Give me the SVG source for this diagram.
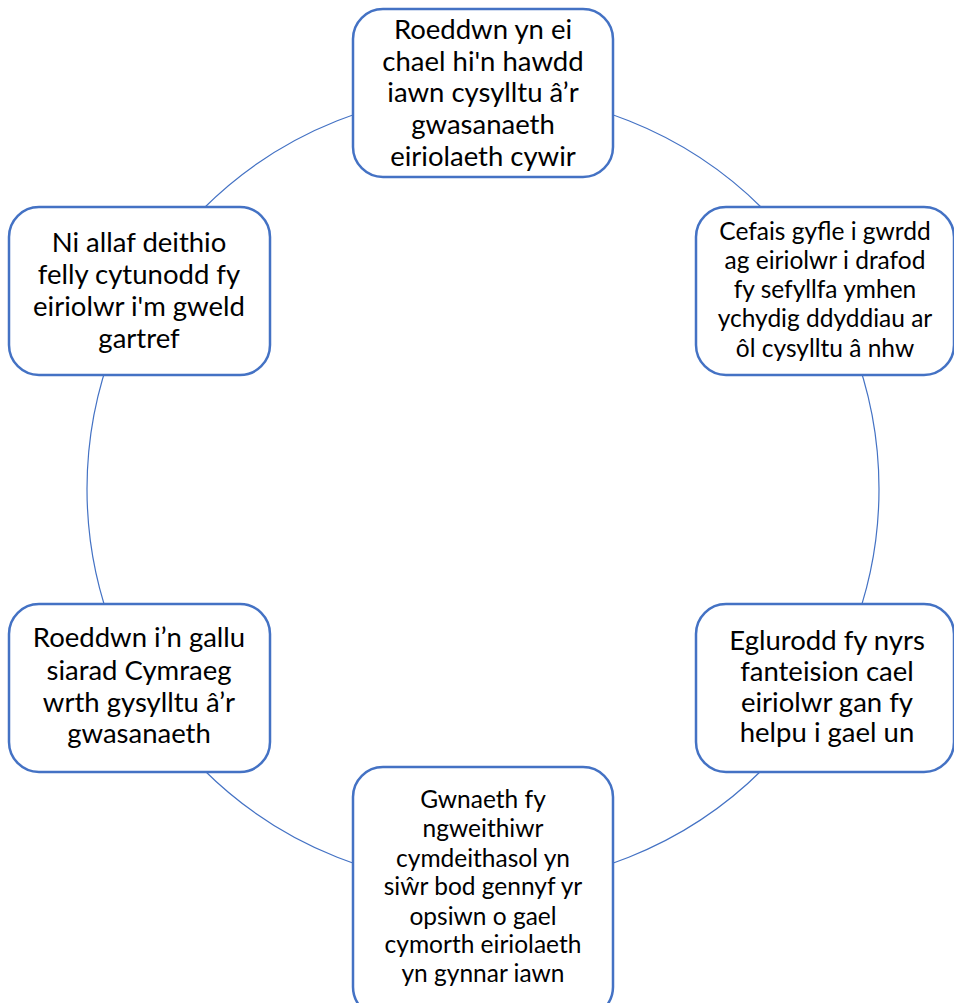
<svg xmlns="http://www.w3.org/2000/svg" width="954" height="1003" viewBox="0 0 954 1003">
<style>
.box{fill:#fff;stroke:#4472C4;stroke-width:2.5}
.t{font-family:Lato,"Liberation Sans",sans-serif;fill:#000;text-anchor:middle}
.big{font-size:27.5px}
.sm{font-size:24.5px}
.ring{fill:none;stroke:#4472C4;stroke-width:1.2}
</style>
<rect width="954" height="1003" fill="#fff"/>
<g id="connectors">
<circle class="ring" cx="483" cy="489" r="396"/>
</g>
<g id="n1">
<rect class="box" x="353" y="9" width="260" height="168" rx="30"/>
<text class="t big" x="483" y="39">Roeddwn yn ei</text>
<text class="t big" x="483" y="71">chael hi'n hawdd</text>
<text class="t big" x="483" y="102">iawn cysylltu â’r</text>
<text class="t big" x="483" y="134">gwasanaeth</text>
<text class="t big" x="483" y="166">eiriolaeth cywir</text>
</g>
<g id="n2">
<rect class="box" x="696" y="207" width="258" height="168" rx="30"/>
<text class="t sm" x="825" y="240">Cefais gyfle i gwrdd</text>
<text class="t sm" x="825" y="269">ag eiriolwr i drafod</text>
<text class="t sm" x="825" y="298">fy sefyllfa ymhen</text>
<text class="t sm" x="825" y="327">ychydig ddyddiau ar</text>
<text class="t sm" x="825" y="357">ôl cysylltu â nhw</text>
</g>
<g id="n3">
<rect class="box" x="696" y="604" width="258" height="168" rx="30"/>
<text class="t big" x="827" y="650">Eglurodd fy nyrs</text>
<text class="t big" x="827" y="681">fanteision cael</text>
<text class="t big" x="827" y="712">eiriolwr gan fy</text>
<text class="t big" x="827" y="742">helpu i gael un</text>
</g>
<g id="n4">
<rect class="box" x="353" y="767" width="260" height="250" rx="30"/>
<text class="t sm" x="483" y="808">Gwnaeth fy</text>
<text class="t sm" x="483" y="837">ngweithiwr</text>
<text class="t sm" x="483" y="867">cymdeithasol yn</text>
<text class="t sm" x="483" y="895">siŵr bod gennyf yr</text>
<text class="t sm" x="483" y="925">opsiwn o gael</text>
<text class="t sm" x="483" y="953">cymorth eiriolaeth</text>
<text class="t sm" x="483" y="982">yn gynnar iawn</text>
</g>
<g id="n5">
<rect class="box" x="9" y="604" width="261" height="168" rx="30"/>
<text class="t big" x="139" y="647">Roeddwn i’n gallu</text>
<text class="t big" x="139" y="680">siarad Cymraeg</text>
<text class="t big" x="139" y="712">wrth gysylltu â’r</text>
<text class="t big" x="139" y="743">gwasanaeth</text>
</g>
<g id="n6">
<rect class="box" x="9" y="207" width="261" height="168" rx="30"/>
<text class="t big" x="139" y="252">Ni allaf deithio</text>
<text class="t big" x="139" y="284">felly cytunodd fy</text>
<text class="t big" x="139" y="316">eiriolwr i'm gweld</text>
<text class="t big" x="139" y="348">gartref</text>
</g>
</svg>
